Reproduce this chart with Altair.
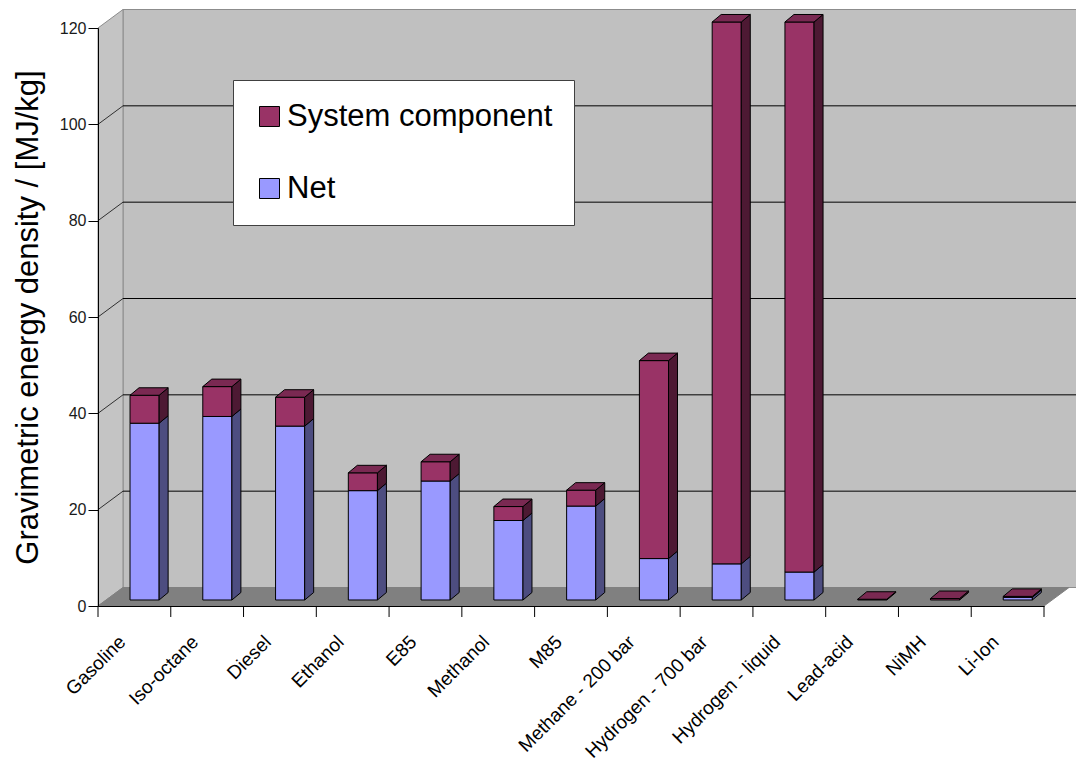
import altair as alt
import pandas as pd

# Gravimetric energy density of fuels and storage systems, MJ/kg
categories = ["Gasoline", "Iso-octane", "Diesel", "Ethanol", "E85", "Methanol", "M85",
              "Methane - 200 bar", "Hydrogen - 700 bar", "Hydrogen - liquid",
              "Lead-acid", "NiMH", "Li-Ion"]
net_values = [36.7, 38.1, 36.1, 22.7, 24.7, 16.5, 19.5, 8.6, 7.5, 5.8, 0.0, 0.0, 0.55]
system_values = [5.8, 6.2, 6.0, 3.7, 4.0, 2.9, 3.3, 41.1, 112.5, 114.2, 0.15, 0.3, 0.2]
series = ["System component", "Net"]
y_ticks = [0, 20, 40, 60, 80, 100, 120]

FONT = "Liberation Sans"
W, H = 946, 578
N = len(categories)
Y_MAX = 120
PX_X = W / N          # pixels per category
PX_Y = H / Y_MAX      # pixels per MJ/kg

# pseudo-3D box: depth of the walls and of the bars, in data units
DX = 25 / PX_X
DY = 18.5 / PX_Y
WALL_EXTRA = 12 / PX_X   # back wall runs on past the floor's right corner
BAR_L, BAR_R = 0.44, 0.84
BASE = 0.325 * DY
SX = 9 / PX_X
SY = 7.5 / PX_Y
LABEL_SHIFT = 12 / PX_X

colors = {
    "Net": ("#9999ff", "#4d4d80", "#7a7acc"),
    "System component": ("#993366", "#4d1933", "#7a2952"),
}

xs = alt.Scale(domain=[0, N], nice=False, zero=False)
ys = alt.Scale(domain=[0, Y_MAX], nice=False, zero=False)

# --- box walls -------------------------------------------------------------
back_wall = pd.DataFrame({"x0": [DX], "x1": [N + DX + WALL_EXTRA],
                          "y0": [DY], "y1": [Y_MAX + DY]})
left_wall = pd.DataFrame({"x": [0, DX], "lo": [0, DY], "hi": [Y_MAX, Y_MAX + DY]})
floor = pd.DataFrame({"y": [0, DY], "l": [0, DX], "r": [N, N + DX]})

grid_vals = [v for v in y_ticks if 0 < v < Y_MAX]
back_grid = pd.DataFrame({"y": [v + DY for v in grid_vals]})
side_grid = pd.DataFrame({"y": grid_vals, "y2": [v + DY for v in grid_vals]})
tick_pos = pd.DataFrame({"t": list(range(N + 1))})
frame = pd.DataFrame({"x": [0, N], "y": [0, Y_MAX]})
cat_labels = pd.DataFrame({"cat": categories,
                           "xc": [i + 0.5 - LABEL_SHIFT for i in range(N)]})

# --- bars ------------------------------------------------------------------
front_rows, side_rows, top_rows = [], [], []
for i, cat in enumerate(categories):
    lo = 0.0
    top_seg = None
    for seg, v in (("Net", net_values[i]), ("System component", system_values[i])):
        if v <= 0:
            continue
        hi = lo + v
        x0, x1 = i + BAR_L, i + BAR_R
        front_rows.append({"cat": cat, "seg": seg, "x0": x0, "x1": x1,
                           "y0": lo + BASE, "y1": hi + BASE})
        key = f"{i}-{seg}"
        side_rows.append({"key": key, "fill": colors[seg][1], "x": x1,
                          "lo": lo + BASE, "hi": hi + BASE})
        side_rows.append({"key": key, "fill": colors[seg][1], "x": x1 + SX,
                          "lo": lo + BASE + SY, "hi": hi + BASE + SY})
        lo = hi
        top_seg = seg
    if top_seg is not None:
        key = f"{i}-top"
        top_rows.append({"key": key, "fill": colors[top_seg][2], "y": lo + BASE,
                         "l": i + BAR_L, "r": i + BAR_R})
        top_rows.append({"key": key, "fill": colors[top_seg][2], "y": lo + BASE + SY,
                         "l": i + BAR_L + SX, "r": i + BAR_R + SX})

front_df = pd.DataFrame(front_rows)
side_df = pd.DataFrame(side_rows)
top_df = pd.DataFrame(top_rows)

# invisible layer that carries both axes (listed first so its settings win)
axes_layer = alt.Chart(frame).mark_point(opacity=0).encode(
    x=alt.X("x:Q", scale=xs, axis=alt.Axis(
        title=None, labels=False, ticks=False, grid=False,
        domainColor="black", domainWidth=1, zindex=1)),
    y=alt.Y("y:Q", scale=ys, axis=alt.Axis(
        values=y_ticks, title="Gravimetric energy density / [MJ/kg]", grid=False,
        domainColor="black", domainWidth=1, tickColor="black", tickSize=10, tickWidth=1,
        labelFont=FONT, labelFontSize=16, labelColor="#1a1a1a", labelPadding=2,
        titleFont=FONT, titleFontSize=31, titleFontWeight="normal", titleColor="black",
        titlePadding=15, zindex=1)),
)

back_layer = alt.Chart(back_wall).mark_rect(fill="#c0c0c0", stroke="#8c8c8c", strokeWidth=1).encode(
    x=alt.X("x0:Q", scale=xs), x2="x1",
    y=alt.Y("y0:Q", scale=ys), y2="y1",
)

left_layer = alt.Chart(left_wall).mark_area(
    fill="#c4c4c4", stroke="#8c8c8c", strokeWidth=1, orient="vertical"
).encode(
    x=alt.X("x:Q", scale=xs),
    y=alt.Y("lo:Q", scale=ys), y2="hi",
)

floor_layer = alt.Chart(floor).mark_area(
    fill="#808080", stroke="#808080", strokeWidth=1, orient="horizontal"
).encode(
    y=alt.Y("y:Q", scale=ys),
    x=alt.X("l:Q", scale=xs), x2="r",
)

back_grid_layer = alt.Chart(back_grid).mark_rule(color="black", strokeWidth=1).encode(
    y=alt.Y("y:Q", scale=ys),
    x=alt.value(25), x2=alt.value(W + 40),
)

side_grid_layer = alt.Chart(side_grid).mark_rule(color="#303030", strokeWidth=1).encode(
    y=alt.Y("y:Q", scale=ys), y2="y2",
    x=alt.value(0), x2=alt.value(25),
)

ticks_layer = alt.Chart(tick_pos).mark_rule(color="black", strokeWidth=1).encode(
    x=alt.X("t:Q", scale=xs),
    y=alt.value(H), y2=alt.value(H + 11),
)

# category names, rotated, right end just left of each category centre
labels_layer = alt.Chart(cat_labels).mark_text(
    angle=315, align="right", baseline="middle", font=FONT, fontSize=19,
    color="black",
).encode(
    x=alt.X("xc:Q", scale=xs),
    y=alt.value(H + 33),
    text="cat:N",
)

front_layer = alt.Chart(front_df).mark_rect(stroke="black", strokeWidth=1).encode(
    x=alt.X("x0:Q", scale=xs), x2="x1",
    y=alt.Y("y0:Q", scale=ys), y2="y1",
    color=alt.Color("seg:N",
                    scale=alt.Scale(domain=series,
                                    range=[colors[s][0] for s in series]),
                    legend=alt.Legend(
                        title=None, orient="none", legendX=135, legendY=52,
                        fillColor="white", strokeColor="#404040", padding=21,
                        symbolType="square", symbolSize=400, symbolStrokeColor="black",
                        symbolStrokeWidth=1, symbolOpacity=1,
                        labelFont=FONT, labelFontSize=31, labelColor="black",
                        labelOffset=2, rowPadding=40, labelLimit=0)),
)

side_layer = alt.Chart(side_df).mark_area(stroke="black", strokeWidth=1, orient="vertical").encode(
    x=alt.X("x:Q", scale=xs),
    y=alt.Y("lo:Q", scale=ys), y2="hi",
    detail="key:N",
    fill=alt.Fill("fill:N", scale=None),
)

top_layer = alt.Chart(top_df).mark_area(stroke="black", strokeWidth=1, orient="horizontal").encode(
    y=alt.Y("y:Q", scale=ys),
    x=alt.X("l:Q", scale=xs), x2="r",
    detail="key:N",
    fill=alt.Fill("fill:N", scale=None),
)

chart = alt.layer(
    axes_layer, back_layer, left_layer, floor_layer, back_grid_layer, side_grid_layer,
    ticks_layer, front_layer, side_layer, top_layer, labels_layer,
).properties(
    width=W, height=H,
    padding={"left": 98, "top": 28, "right": 32, "bottom": 161},
    autosize=alt.AutoSizeParams(type="none"),
    background="white",
).configure_view(stroke=None)

chart.save("out.html", embed_options={"renderer": "svg", "actions": False})
